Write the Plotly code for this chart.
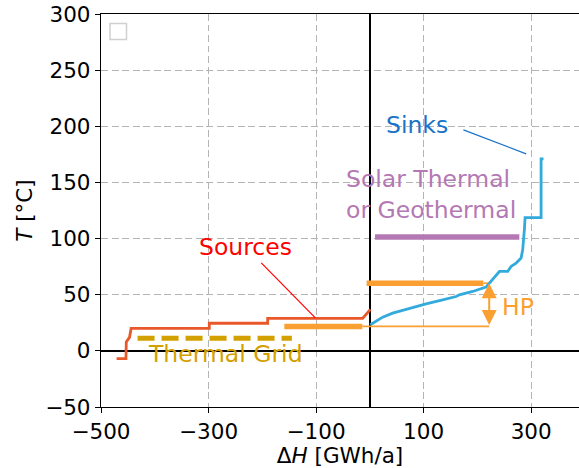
import plotly.graph_objects as go

# ---- data ----
sources_x = [-471, -453.6, -453, -447, -444, -298.6, -298.6, -190, -190, -13.4, 1]
sources_y = [-7, -7, 8, 12, 20, 20, 24.6, 24.6, 29, 29, 37]

sinks_x = [0.9, 11.5, 23.9, 42.5, 73.5, 104.5, 135.5, 160.3, 166.5, 191.3, 216, 228.5,
           241, 256.4, 262.7, 272, 281.3, 284.3, 286.2, 287.4, 288.7, 318.5, 318.5, 323]
sinks_y = [23.2, 26.1, 30, 33.6, 38, 41.9, 45.5, 48.4, 49.9, 52.9, 56.8, 63.3,
           70.7, 70.7, 75.2, 78.2, 82.6, 90, 98.9, 107.8, 118.7, 118.7, 171, 171]

grid_x = [-432, -145]
grid_y = [11.3, 11.3]

hp_low_bar_x = [-159, -14]
hp_low_bar_y = [21.8, 21.8]
hp_low_thin_x = [-14, 222]
hp_low_thin_y = [21.8, 21.8]
hp_high_bar_x = [-6, 211]
hp_high_bar_y = [60.3, 60.3]
hp_high_thin_x = [211, 222]
hp_high_thin_y = [60.3, 60.3]
hp_arrow_x = 222
hp_arrow_y = [21.8, 60.3]

solar_x = [9.7, 278]
solar_y = [101.5, 101.5]

sources_label = {"text": "Sources", "x": -231.6, "y": 92.6}
sources_pointer_x = [-201.9, -101.4]
sources_pointer_y = [78.4, 29.4]
sinks_label = {"text": "Sinks", "x": 88.4, "y": 201}
sinks_pointer_x = [174, 290.7]
sinks_pointer_y = [196.8, 175.4]
hp_label = {"text": "HP", "x": 276, "y": 39.2}
grid_label = {"text": "Thermal Grid", "x": -268.8, "y": -2.7}
solar_label = {"text": "Solar Thermal<br>or Geothermal", "x": -47.4, "y": 139.4}

x_ticks = [-500, -300, -100, 100, 300]
x_ticktext = ["\u2212500", "\u2212300", "\u2212100", "100", "300"]
y_ticks = [-50, 0, 50, 100, 150, 200, 250, 300]
y_ticktext = ["\u221250", "0", "50", "100", "150", "200", "250", "300"]

# ---- colours ----
C_SRC = "#e9582b"
C_SRC_TXT = "#ff0000"
C_SNK = "#32aadc"
C_SNK_TXT = "#1a73c8"
C_HP = "#faa032"
C_SOL = "#b478b4"
C_GRID = "#d4a000"

fig = go.Figure()

def line(x, y, color, width, dash=None):
    fig.add_trace(go.Scatter(x=x, y=y, mode="lines",
                             line=dict(color=color, width=width, dash=dash),
                             showlegend=False, hoverinfo="skip"))

line(grid_x, grid_y, C_GRID, 5, dash="17px,7px")
line(hp_low_bar_x, hp_low_bar_y, C_HP, 5.5)
line(hp_low_thin_x, hp_low_thin_y, C_HP, 1.6)
line(hp_high_bar_x, hp_high_bar_y, C_HP, 5.5)
line(hp_high_thin_x, hp_high_thin_y, C_HP, 1.6)
line(solar_x, solar_y, C_SOL, 5.5)
line(sources_x, sources_y, C_SRC, 2.8)
line(sinks_x, sinks_y, C_SNK, 2.8)
line(sources_pointer_x, sources_pointer_y, C_SRC_TXT, 1.2)
line(sinks_pointer_x, sinks_pointer_y, C_SNK_TXT, 1.2)

FS = 23.5
for lab, col in [(sources_label, C_SRC_TXT), (sinks_label, C_SNK_TXT),
                 (hp_label, C_HP), (grid_label, C_GRID)]:
    fig.add_annotation(x=lab["x"], y=lab["y"], text=lab["text"], showarrow=False,
                       xref="x", yref="y", xanchor="center", yanchor="middle",
                       font=dict(size=FS, color=col))
fig.add_annotation(x=solar_label["x"], y=solar_label["y"], text=solar_label["text"],
                   showarrow=False, xref="x", yref="y", xanchor="left", yanchor="middle",
                   align="left", font=dict(size=FS, color=C_SOL))

# HP double arrow
fig.add_annotation(x=hp_arrow_x, y=hp_arrow_y[1], ax=hp_arrow_x, ay=hp_arrow_y[0],
                   xref="x", yref="y", axref="x", ayref="y", text="",
                   showarrow=True, arrowhead=2, startarrowhead=2, arrowside="end+start",
                   arrowwidth=2, arrowsize=1.5, startarrowsize=1.5, arrowcolor=C_HP)

# empty legend box
fig.add_shape(type="rect", xref="paper", yref="paper",
              x0=(110 - 101) / 478, x1=(126.5 - 101) / 478,
              y0=(407 - 39.5) / 393, y1=(407 - 23.5) / 393,
              line=dict(color="#d0d0d0", width=1.5), fillcolor="white")

axis_common = dict(
    showline=True, linecolor="black", linewidth=1.3, mirror=True,
    ticks="outside", ticklen=5, tickwidth=1.2, tickcolor="black",
    showgrid=True, gridcolor="#b4b4b4", gridwidth=1.3, griddash="7px,3.5px",
    zeroline=True, zerolinecolor="black", zerolinewidth=1.5,
    tickfont=dict(size=21.5, color="black"),
)

fig.update_xaxes(range=[-500, 389], tickvals=x_ticks, ticktext=x_ticktext,
                 title=dict(text="\u0394<i>H</i> [GWh/a]", font=dict(size=21.5, color="black"), standoff=4),
                 **axis_common)
fig.update_yaxes(range=[-50, 300], tickvals=y_ticks, ticktext=y_ticktext,
                 title=dict(text="<i>T</i> [°C]", font=dict(size=21.5, color="black"), standoff=6),
                 **axis_common)

fig.update_layout(width=579, height=468, autosize=False,
                  margin=dict(l=101, r=0, t=14, b=61),
                  plot_bgcolor="white", paper_bgcolor="white",
                  font=dict(family="DejaVu Sans", color="black"),
                  showlegend=False)

fig.write_html("out.html")
